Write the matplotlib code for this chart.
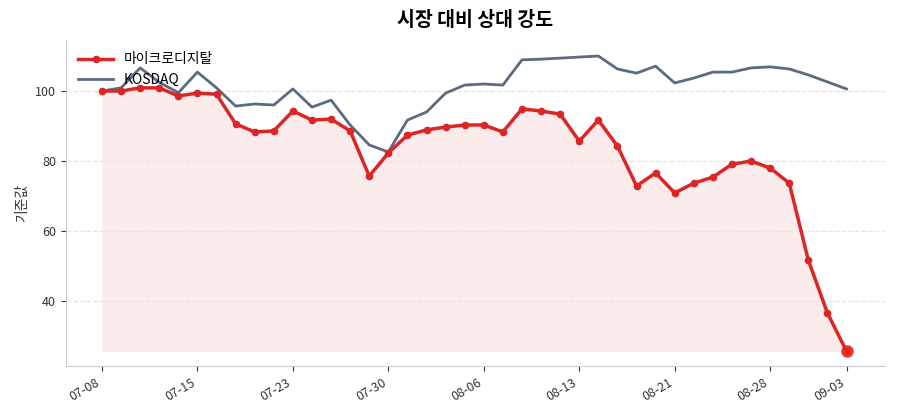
import matplotlib
matplotlib.use("Agg")
import matplotlib.pyplot as plt
import numpy as np

plt.rcParams['font.family'] = ['Noto Sans CJK KR', 'DejaVu Sans']

stock = [100,100,100.9,100.9,98.6,99.4,99.1,90.6,88.3,88.6,94.3,91.7,92,88.6,75.7,82.3,87.4,88.9,89.7,90.3,
         90.3,88.3,94.9,94.3,93.4,85.7,91.7,84.3,72.9,76.6,70.9,73.7,75.4,79.1,80,78,73.7,51.7,36.6,25.7]
kosdaq = [100,100.9,106.6,102.5,99.5,105.4,100.9,95.7,96.3,96,100.6,95.4,97.4,90.3,84.6,82.6,91.7,94,99.4,101.7,
          102,101.7,108.9,109.1,109.4,109.7,110,106.3,105.1,107.1,102.3,103.7,105.4,105.4,106.6,106.9,106.3,104.6,102.6,100.6]
tick_pos = [0,5,10,15,20,25,30,35,39]
tick_labels = ['07-08','07-15','07-23','07-30','08-06','08-13','08-21','08-28','09-03']

x = np.arange(len(stock))
fig, ax = plt.subplots(figsize=(9,4.2), dpi=100)
fig.subplots_adjust(left=0.073, right=0.983, top=0.905, bottom=0.128)
red = '#dc2626'; gray = '#5b6b82'
ax.fill_between(x, stock, min(stock), color=red, alpha=0.09, lw=0)
ax.plot(x, stock, color=red, lw=2.5, marker='o', ms=4.5, label='마이크로디지탈', zorder=3)
ax.plot(x, kosdaq, color=gray, lw=2, label='KOSDAQ', zorder=2)
ax.plot([x[-1]], [stock[-1]], 'o', color=red, ms=8, alpha=0.85, zorder=4)
ax.set_xlim(-1.9, 41)
ax.set_ylim(21.4, 114.6)
ax.set_yticks([40,60,80,100])
ax.set_xticks(tick_pos)
ax.set_xticklabels(tick_labels, rotation=30, ha='right')
ax.tick_params(colors='#333333', labelsize=9)
ax.grid(axis='y', ls='--', color='#e5e5e5', lw=0.9)
for s in ['top','right']:
    ax.spines[s].set_visible(False)
for s in ['left','bottom']:
    ax.spines[s].set_color('#cccccc')
ax.set_ylabel('기준값', fontsize=10, color='#333333')
ax.set_title('시장 대비 상대 강도', fontsize=14, fontweight='bold', pad=10)
ax.legend(loc='upper left', frameon=False, fontsize=10, handlelength=2.5)
fig.savefig('out.png')
